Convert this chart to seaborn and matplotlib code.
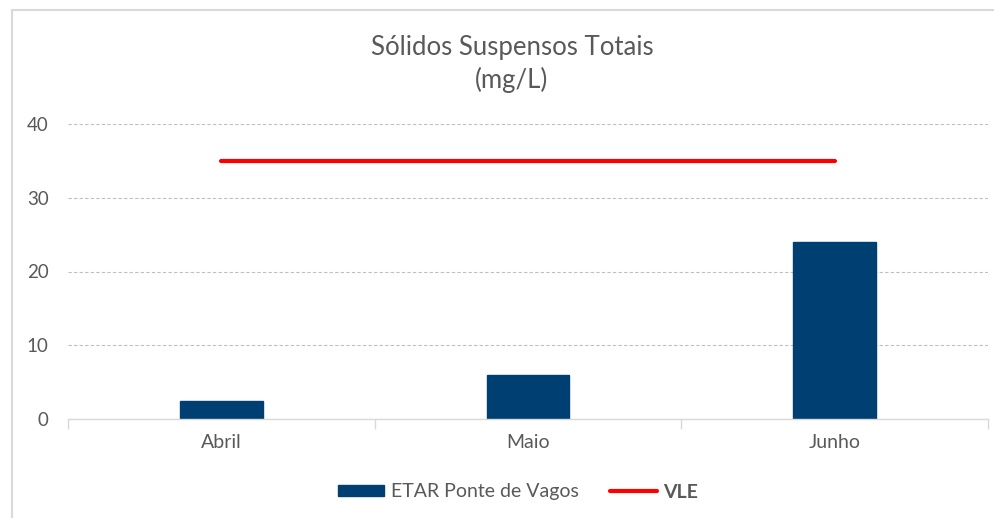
import matplotlib
matplotlib.use("Agg")
import matplotlib.pyplot as plt
import seaborn as sns
import pandas as pd
from matplotlib.lines import Line2D
from matplotlib.patches import Patch

categories = ["Abril", "Maio", "Junho"]
etar_values = [2.5, 6, 24]
vle_values = [35, 35, 35]
series_bar = "ETAR Ponte de Vagos"
series_line = "VLE"
yticks = [0, 10, 20, 30, 40]

sns.set_theme(style="white")
plt.rcParams['font.family'] = ['Lato', 'DejaVu Sans']
txt = "#595959"

fig = plt.figure(figsize=(9.94, 5.18), dpi=100)
ax = fig.add_axes([68/994, 1-419/518, (988-68)/994, (419-124)/518])

df = pd.DataFrame({"mes": categories, "val": etar_values})
sns.barplot(data=df, x="mes", y="val", color="#003F72", width=0.27, ax=ax,
            saturation=1, edgecolor="#003F72")
dl = pd.DataFrame({"mes": categories, "val": vle_values})
sns.lineplot(data=dl, x="mes", y="val", color="#FF0000", linewidth=3, ax=ax,
             solid_capstyle="round")

ax.set_xlim(-0.5, 2.5)
ax.set_ylim(0, 40)
ax.set_yticks(yticks)
ax.yaxis.grid(True, linestyle=(0, (3, 2)), color="#BFBFBF", linewidth=0.8)
ax.set_axisbelow(True)
for s in ["left", "right", "top"]:
    ax.spines[s].set_visible(False)
ax.spines["bottom"].set_color("#D9D9D9")
ax.spines["bottom"].set_linewidth(1)
ax.set_xlabel("")
ax.set_ylabel("")
ax.tick_params(axis="y", length=0, pad=14, labelsize=13.5, labelcolor=txt)
ax.tick_params(axis="x", length=0, pad=11, labelsize=14, labelcolor=txt)
# category separator ticks
ax.set_xticks([-0.5, 0.5, 1.5, 2.5], minor=True)
ax.tick_params(axis="x", which="minor", length=7, color="#D9D9D9", width=1, bottom=True)

fig.text(512/994, 1-47/518, "Sólidos Suspensos Totais", ha="center", va="center",
         fontsize=18.5, color=txt)
fig.text(512/994, 1-80/518, "(mg/L)", ha="center", va="center",
         fontsize=18.5, color=txt)

handles = [Patch(facecolor="#003F72", edgecolor="#003F72"),
           Line2D([0], [0], color="#FF0000", linewidth=3)]
leg = fig.legend(handles, [series_bar, series_line], loc="center",
                 bbox_to_anchor=(518/994, 1-492/518), ncol=2, frameon=False,
                 fontsize=14, handlelength=2.4, handleheight=0.5,
                 columnspacing=1.6, handletextpad=0.35)
for t in leg.get_texts():
    t.set_color(txt)
leg.get_texts()[1].set_fontweight("bold")

# outer frame (left and top)
fig.add_artist(Line2D([12/994, 12/994], [0, 1-10/518], color="#D9D9D9", linewidth=1.5,
                      transform=fig.transFigure))
fig.add_artist(Line2D([12/994, 1], [1-10/518, 1-10/518], color="#D9D9D9", linewidth=1.5,
                      transform=fig.transFigure))

fig.savefig("out.png", dpi=100)
